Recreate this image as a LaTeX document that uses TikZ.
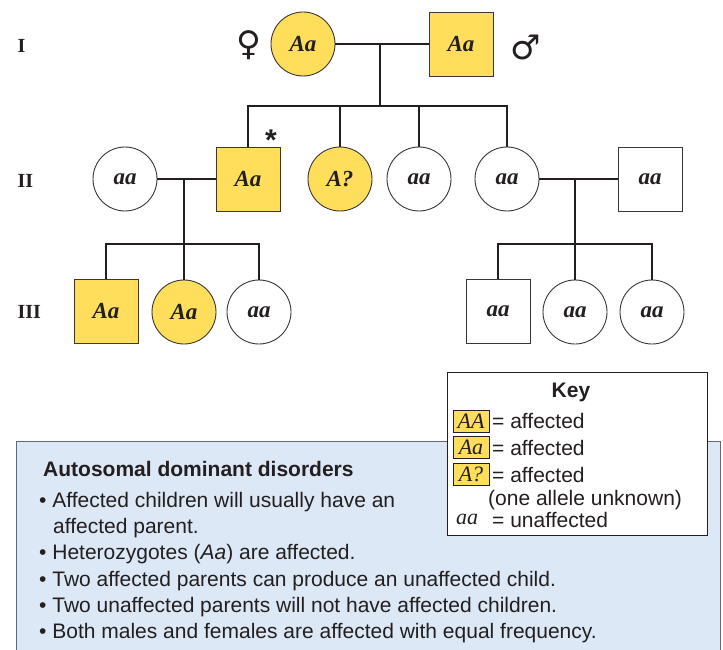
\documentclass[tikz,border=0pt]{standalone}
\usepackage{fontspec}
\setmainfont{Liberation Serif}
\setsansfont{Liberation Sans}
\newfontfamily\symfont{DejaVu Sans}
\definecolor{affyel}{RGB}{255,222,92}
\definecolor{boxblue}{RGB}{220,232,245}
\definecolor{ink}{RGB}{35,31,32}
\definecolor{outline}{RGB}{55,55,55}
\definecolor{boxborder}{RGB}{95,105,118}
\begin{document}
\begin{tikzpicture}[x=1pt,y=-1pt,
  person/.style={draw=outline, line width=0.9pt, inner sep=0pt, text=ink,
    font=\fontsize{23}{23}\selectfont\bfseries\itshape},
  fem/.style={person, circle, minimum size=64pt, fill=white},
  mal/.style={person, rectangle, minimum size=64pt, fill=white},
  aff/.style={fill=affyel},
  link/.style={draw=ink, line width=2.6pt},
  genlab/.style={anchor=west, text=ink, font=\fontsize{20}{20}\selectfont\bfseries},
  bluetxt/.style={anchor=base west, text=ink, inner sep=0pt, font=\sffamily\fontsize{21}{21}\selectfont},
  keybox/.style={draw=ink, fill=affyel, line width=0.8pt, inner sep=0pt,
    minimum width=36pt, minimum height=22pt, text=ink, font=\fontsize{22}{22}\selectfont\itshape},
  gsym/.style={text=ink, inner sep=0pt, font=\symfont\fontsize{34}{34}\selectfont}]
\useasboundingbox (0,0) rectangle (723,650);
\fill[white] (0,0) rectangle (723,650);

% generation labels
\node[genlab] (g1) at (14,46) {I};
\node[genlab] (g2) at (14,181) {II};
\node[genlab] (g3) at (14,312) {III};

% generation I
\node[fem,aff] (f1) at (303,44) {Aa};
\node[mal,aff] (m1) at (461,44) {Aa};
\node[gsym] (fsym) at (249,45) {♀};
\node[gsym] (msym) at (526,47) {♂};
\coordinate (c1) at (380,44);
\coordinate (b1) at (380,106);

% generation II
\node[fem] (ii1) at (125,179) {aa};
\node[mal,aff] (ii2) at (248,179) {Aa};
\node[fem,aff] (ii3) at (340,179) {A?};
\node[fem] (ii4) at (419,179) {aa};
\node[fem] (ii5) at (507,179) {aa};
\node[mal] (ii6) at (650,179) {aa};
\node[text=ink, inner sep=0pt, font=\sffamily\bfseries\fontsize{30}{30}\selectfont] (star) at (271,140) {*};
\coordinate (c2) at (184,179);
\coordinate (b2) at (184,244);
\coordinate (c3) at (575,179);
\coordinate (b3) at (575,244);

% generation III
\node[mal,aff] (iii1) at (106,311) {Aa};
\node[fem,aff] (iii2) at (184,312) {Aa};
\node[fem] (iii3) at (259,312) {aa};
\node[mal] (iii4) at (498,311) {aa};
\node[fem] (iii5) at (575,312) {aa};
\node[fem] (iii6) at (652,312) {aa};

% connectors
\draw[link] (f1) -- (m1);
\draw[link] (c1) -- (b1);
\draw[link] (ii2.north) |- (b1) -| (ii5.north);
\draw[link] (ii3.north) -- (ii3.north |- b1);
\draw[link] (ii4.north) -- (ii4.north |- b1);
\draw[link] (ii1) -- (ii2);
\draw[link] (c2) -- (b2);
\draw[link] (iii1.north) |- (b2) -| (iii3.north);
\draw[link] (b2) -- (iii2.north);
\draw[link] (ii5) -- (ii6);
\draw[link] (c3) -- (b3);
\draw[link] (iii4.north) |- (b3) -| (iii6.north);
\draw[link] (b3) -- (iii5.north);

% blue summary box
\draw[draw=boxborder, fill=boxblue, line width=0.8pt] (16,441) rectangle (720,662);
\node[bluetxt] (hd) at (43,476) {\bfseries Autosomal dominant disorders};
\node[bluetxt] (l1) at (39,507) {• Affected children will usually have an};
\node[bluetxt] (l1b) at (53,533) {affected parent.};
\node[bluetxt] (l2) at (39,559) {• Heterozygotes (\textit{Aa}) are affected.};
\node[bluetxt] (l3) at (39,586) {• Two affected parents can produce an unaffected child.};
\node[bluetxt] (l4) at (39,612) {• Two unaffected parents will not have affected children.};
\node[bluetxt] (l5) at (39,638) {• Both males and females are affected with equal frequency.};

% key box
\draw[draw=ink, fill=white, line width=0.9pt] (447,372) rectangle (707,535);
\node[text=ink, font=\sffamily\bfseries\fontsize{21}{21}\selectfont] (keyt) at (571,392) {Key};
\node[keybox] (kAA) at (471,421) {AA};
\node[keybox] (kAa) at (471,447) {Aa};
\node[keybox] (kAq) at (471,474) {A?};
\node[text=ink, inner sep=0pt, font=\fontsize{22}{22}\selectfont\itshape] (kaa) at (467,519) {aa};
\node[bluetxt] (t1) at (492,428) {= affected};
\node[bluetxt] (t2) at (492,455) {= affected};
\node[bluetxt] (t3) at (492,482) {= affected};
\node[bluetxt] (t4) at (488,505) {(one allele unknown)};
\node[bluetxt] (t5) at (492,527) {= unaffected};
\end{tikzpicture}
\end{document}
